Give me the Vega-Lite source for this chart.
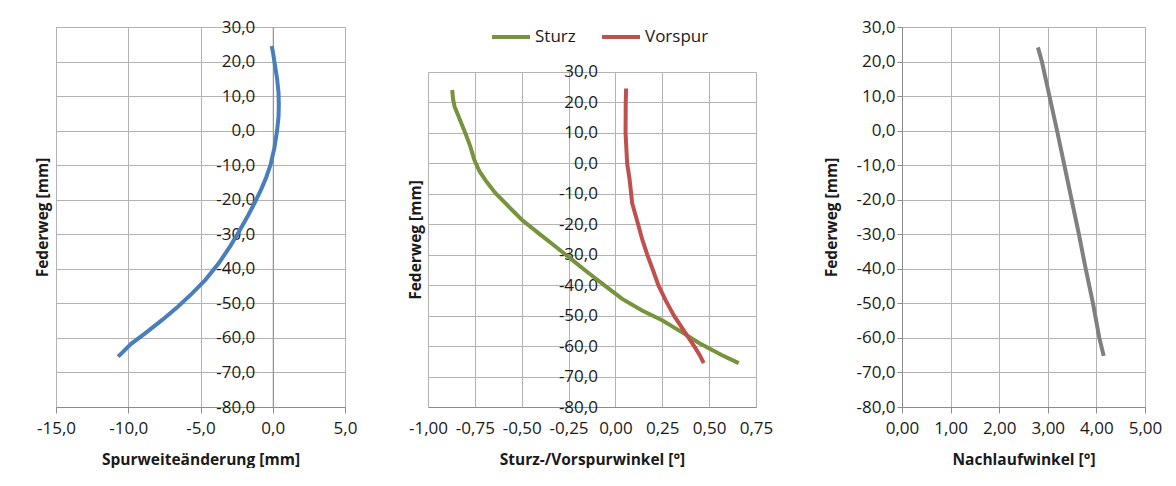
{
  "$schema": "https://vega.github.io/schema/vega-lite/v6.json",
  "padding": {"left": 35, "top": 16, "right": 0, "bottom": 0},
  "background": "white",
  "datasets": {
    "spur": [
      {"Spurweite": -0.07, "Federweg": 24.5},
      {"Spurweite": 0.0, "Federweg": 23.0},
      {"Spurweite": 0.115, "Federweg": 20.0},
      {"Spurweite": 0.3, "Federweg": 15.0},
      {"Spurweite": 0.4, "Federweg": 11.0},
      {"Spurweite": 0.42, "Federweg": 7.5},
      {"Spurweite": 0.4, "Federweg": 4.0},
      {"Spurweite": 0.3, "Federweg": 0.0},
      {"Spurweite": 0.115, "Federweg": -5.0},
      {"Spurweite": -0.16, "Federweg": -10.0},
      {"Spurweite": -0.45, "Federweg": -13.5},
      {"Spurweite": -0.8, "Federweg": -17.0},
      {"Spurweite": -1.2, "Federweg": -20.5},
      {"Spurweite": -1.7, "Federweg": -24.5},
      {"Spurweite": -2.3, "Federweg": -29.0},
      {"Spurweite": -2.95, "Federweg": -33.5},
      {"Spurweite": -3.74, "Federweg": -38.4},
      {"Spurweite": -4.66, "Federweg": -43.2},
      {"Spurweite": -5.58, "Federweg": -47.1},
      {"Spurweite": -6.55, "Federweg": -50.9},
      {"Spurweite": -7.65, "Federweg": -54.8},
      {"Spurweite": -8.81, "Federweg": -58.6},
      {"Spurweite": -9.8, "Federweg": -61.7},
      {"Spurweite": -10.7, "Federweg": -65.4}
    ],
    "sturz": [
      {"Serie": "Sturz", "Winkel": -0.871, "Federweg": 24.1},
      {"Serie": "Sturz", "Winkel": -0.866, "Federweg": 21.0},
      {"Serie": "Sturz", "Winkel": -0.858, "Federweg": 18.6},
      {"Serie": "Sturz", "Winkel": -0.836, "Federweg": 15.3},
      {"Serie": "Sturz", "Winkel": -0.818, "Federweg": 12.5},
      {"Serie": "Sturz", "Winkel": -0.8, "Federweg": 9.8},
      {"Serie": "Sturz", "Winkel": -0.774, "Federweg": 5.5},
      {"Serie": "Sturz", "Winkel": -0.752, "Federweg": 1.0},
      {"Serie": "Sturz", "Winkel": -0.726, "Federweg": -2.5},
      {"Serie": "Sturz", "Winkel": -0.694, "Federweg": -5.5},
      {"Serie": "Sturz", "Winkel": -0.64, "Federweg": -9.8},
      {"Serie": "Sturz", "Winkel": -0.569, "Federweg": -14.2},
      {"Serie": "Sturz", "Winkel": -0.498, "Federweg": -18.6},
      {"Serie": "Sturz", "Winkel": -0.409, "Federweg": -23.0},
      {"Serie": "Sturz", "Winkel": -0.32, "Federweg": -27.3},
      {"Serie": "Sturz", "Winkel": -0.231, "Federweg": -31.7},
      {"Serie": "Sturz", "Winkel": -0.142, "Federweg": -36.1},
      {"Serie": "Sturz", "Winkel": -0.06, "Federweg": -40.0},
      {"Serie": "Sturz", "Winkel": 0.036, "Federweg": -44.5},
      {"Serie": "Sturz", "Winkel": 0.142, "Federweg": -48.3},
      {"Serie": "Sturz", "Winkel": 0.249, "Federweg": -51.5},
      {"Serie": "Sturz", "Winkel": 0.356, "Federweg": -55.5},
      {"Serie": "Sturz", "Winkel": 0.446, "Federweg": -59.0},
      {"Serie": "Sturz", "Winkel": 0.569, "Federweg": -63.0},
      {"Serie": "Sturz", "Winkel": 0.658, "Federweg": -65.6},
      {"Serie": "Vorspur", "Winkel": 0.057, "Federweg": 24.6},
      {"Serie": "Vorspur", "Winkel": 0.055, "Federweg": 20.0},
      {"Serie": "Vorspur", "Winkel": 0.054, "Federweg": 10.0},
      {"Serie": "Vorspur", "Winkel": 0.0625, "Federweg": 0.0},
      {"Serie": "Vorspur", "Winkel": 0.075, "Federweg": -5.0},
      {"Serie": "Vorspur", "Winkel": 0.084, "Federweg": -10.0},
      {"Serie": "Vorspur", "Winkel": 0.089, "Federweg": -13.0},
      {"Serie": "Vorspur", "Winkel": 0.121, "Federweg": -20.0},
      {"Serie": "Vorspur", "Winkel": 0.143, "Federweg": -25.0},
      {"Serie": "Vorspur", "Winkel": 0.17, "Federweg": -30.0},
      {"Serie": "Vorspur", "Winkel": 0.2, "Federweg": -35.0},
      {"Serie": "Vorspur", "Winkel": 0.229, "Federweg": -40.0},
      {"Serie": "Vorspur", "Winkel": 0.268, "Federweg": -45.0},
      {"Serie": "Vorspur", "Winkel": 0.3125, "Federweg": -50.0},
      {"Serie": "Vorspur", "Winkel": 0.366, "Federweg": -55.0},
      {"Serie": "Vorspur", "Winkel": 0.42, "Federweg": -60.0},
      {"Serie": "Vorspur", "Winkel": 0.45, "Federweg": -63.0},
      {"Serie": "Vorspur", "Winkel": 0.471, "Federweg": -65.6}
    ],
    "nachlauf": [
      {"Nachlauf": 2.797, "Federweg": 24.1},
      {"Nachlauf": 2.878, "Federweg": 20.0},
      {"Nachlauf": 3.034, "Federweg": 10.0},
      {"Nachlauf": 3.19, "Federweg": 0.0},
      {"Nachlauf": 3.34, "Federweg": -10.0},
      {"Nachlauf": 3.49, "Federweg": -20.0},
      {"Nachlauf": 3.64, "Federweg": -30.0},
      {"Nachlauf": 3.78, "Federweg": -40.0},
      {"Nachlauf": 3.93, "Federweg": -50.0},
      {"Nachlauf": 4.06, "Federweg": -60.0},
      {"Nachlauf": 4.15, "Federweg": -65.2}
    ]
  },
  "hconcat": [
    {
      "width": 289,
      "height": 380,
      "data": {"name": "spur"},
      "mark": {"type": "line", "strokeWidth": 4, "color": "#4a7ebb"},
      "encoding": {
        "x": {
          "field": "Spurweite", "type": "quantitative",
          "scale": {"domain": [-15, 5], "nice": false, "zero": false},
          "axis": {
            "title": "Spurweiteänderung  [mm]",
            "values": [-15, -10, -5, 0, 5],
            "labelExpr": "replace(replace(format(datum.value, '.1f'), '.', ','), '−', '-')"
          }
        },
        "y": {
          "field": "Federweg", "type": "quantitative",
          "scale": {"domain": [-80, 30], "nice": false, "zero": false},
          "axis": {
            "title": "Federweg [mm]",
            "values": [-80, -70, -60, -50, -40, -30, -20, -10, 0, 10, 20, 30],
            "offset": -216.75,
            "ticks": false,
            "labelPadding": 18,
            "titleX": -230,
            "titleY": 190,
            "titleAngle": -90,
            "titleAlign": "center",
            "titleBaseline": "middle",
            "labelExpr": "replace(replace(format(datum.value, '.1f'), '.', ','), '−', '-')"
          }
        },
        "order": {"field": "Federweg", "sort": "descending"}
      }
    },
    {
      "width": 328,
      "height": 380,
      "view": {"stroke": null},
      "data": {"name": "sturz"},
      "mark": {"type": "line", "strokeWidth": 4},
      "encoding": {
        "x": {
          "field": "Winkel", "type": "quantitative",
          "scale": {"domain": [-1, 0.75], "nice": false, "zero": false},
          "axis": {
            "title": "Sturz-/Vorspurwinkel  [°]",
            "values": [-1, -0.75, -0.5, -0.25, 0, 0.25, 0.5, 0.75],
            "grid": false,
            "tickSize": -335,
            "tickColor": "#b3b3b3",
            "labelPadding": 348,
            "labelExpr": "replace(replace(format(datum.value, '.2f'), '.', ','), '−', '-')"
          }
        },
        "y": {
          "field": "Federweg", "type": "quantitative",
          "scale": {"domain": [-80, 44.776], "nice": false, "zero": false},
          "axis": {
            "title": "Federweg [mm]",
            "values": [-80, -70, -60, -50, -40, -30, -20, -10, 0, 10, 20, 30],
            "offset": -187.43,
            "ticks": false,
            "domain": false,
            "labelPadding": 18,
            "titleX": -200,
            "titleY": 212.5,
            "titleAngle": -90,
            "titleAlign": "center",
            "titleBaseline": "middle",
            "labelExpr": "replace(replace(format(datum.value, '.1f'), '.', ','), '−', '-')"
          }
        },
        "color": {
          "field": "Serie", "type": "nominal",
          "scale": {"domain": ["Sturz", "Vorspur"], "range": ["#77933c", "#c0504d"]},
          "legend": {
            "title": null,
            "orient": "none",
            "legendX": 62,
            "legendY": -11,
            "direction": "horizontal",
            "symbolType": "stroke",
            "symbolSize": 1444,
            "symbolStrokeWidth": 4,
            "labelFontSize": 17,
            "labelOffset": 3,
            "columnPadding": 18,
            "padding": 0
          }
        },
        "order": {"field": "Federweg", "sort": "descending"}
      }
    },
    {
      "width": 243,
      "height": 380,
      "data": {"name": "nachlauf"},
      "mark": {"type": "line", "strokeWidth": 4, "color": "#808080"},
      "encoding": {
        "x": {
          "field": "Nachlauf", "type": "quantitative",
          "scale": {"domain": [0, 5], "nice": false, "zero": false},
          "axis": {
            "title": "Nachlaufwinkel  [°]",
            "values": [0, 1, 2, 3, 4, 5],
            "labelExpr": "replace(replace(format(datum.value, '.2f'), '.', ','), '−', '-')"
          }
        },
        "y": {
          "field": "Federweg", "type": "quantitative",
          "scale": {"domain": [-80, 30], "nice": false, "zero": false},
          "axis": {
            "title": "Federweg [mm]",
            "values": [-80, -70, -60, -50, -40, -30, -20, -10, 0, 10, 20, 30],
            "tickSize": 5,
            "labelPadding": 2,
            "titleX": -71,
            "titleY": 190,
            "titleAngle": -90,
            "titleAlign": "center",
            "titleBaseline": "middle",
            "labelExpr": "replace(replace(format(datum.value, '.1f'), '.', ','), '−', '-')"
          }
        },
        "order": {"field": "Federweg", "sort": "descending"}
      }
    }
  ],
  "resolve": {"legend": {"color": "independent"}, "scale": {"color": "independent"}},
  "spacing": 50,
  "bounds": "full",
  "config": {
    "font": "Open Sans",
    "view": {"stroke": "#b3b3b3"},
    "axis": {
      "labelFont": "Open Sans",
      "titleFont": "Open Sans",
      "labelFontSize": 17,
      "titleFontSize": 15.5,
      "titleFontWeight": "bold",
      "labelColor": "#1a1a1a",
      "titleColor": "#1a1a1a",
      "gridColor": "#b3b3b3",
      "gridOpacity": 1,
      "domainColor": "#8c8c8c",
      "tickColor": "#8c8c8c",
      "labelFlush": false,
      "labelOverlap": false,
      "labelBound": false,
      "grid": true
    },
    "axisX": {"tickSize": 6, "labelPadding": 7, "titlePadding": 16},
    "legend": {"labelFont": "Open Sans", "labelColor": "#1a1a1a"}
  }
}
